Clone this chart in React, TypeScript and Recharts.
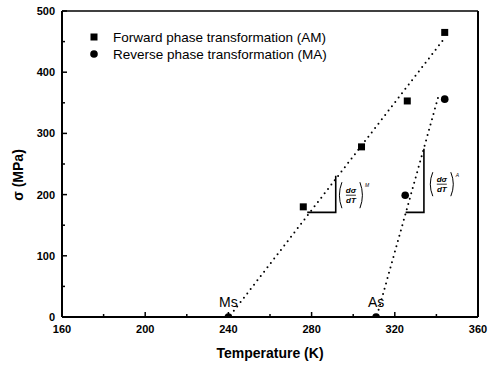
import React from 'react';
import { ScatterChart, Scatter, XAxis, YAxis, ReferenceLine, Legend, Label } from 'recharts';

const forwardSeriesName = 'Forward phase transformation (AM)';
const reverseSeriesName = 'Reverse phase transformation (MA)';

const forwardPoints = [
  { x: 276, y: 180 },
  { x: 304, y: 278 },
  { x: 326, y: 353 },
  { x: 344, y: 465 },
];
const reversePoints = [
  { x: 325, y: 199 },
  { x: 344, y: 356 },
];
const transitionPoints = [
  { x: 240, y: 0, label: 'Ms' },
  { x: 311, y: 0, label: 'As' },
];
const forwardFit = [
  { x: 241, y: 3 },
  { x: 344, y: 456 },
];
const reverseFit = [
  { x: 311.5, y: 3 },
  { x: 341, y: 361 },
];
const forwardSlopeMarker = [
  { x: 277.9, y: 171 },
  { x: 291.6, y: 171 },
  { x: 291.6, y: 231 },
];
const reverseSlopeMarker = [
  { x: 325.2, y: 171 },
  { x: 334, y: 171 },
  { x: 334, y: 275 },
];
const slopeLabels = [
  { x: 298.9, y: 199, sup: 'M', half: 13 },
  { x: 342.6, y: 217, sup: 'A', half: 12 },
];

const xTicks = [160, 180, 200, 220, 240, 260, 280, 300, 320, 340, 360];
const xLabelTicks = [160, 200, 240, 280, 320, 360];
const yTicks = [0, 50, 100, 150, 200, 250, 300, 350, 400, 450, 500];
const yLabelTicks = [0, 100, 200, 300, 400, 500];

const FONT = "'Liberation Sans', Arial, sans-serif";

const XTick = (props: any) => {
  const { x, y, payload } = props;
  const major = xLabelTicks.includes(payload.value);
  const len = major ? 5 : 3;
  return (
    <g>
      <line x1={x} x2={x} y1={y} y2={y - len} stroke="#000" strokeWidth={1.5} />
      {major && (
        <text x={x} y={y + 16} textAnchor="middle" fontSize={11} fontWeight="bold" fill="#000" fontFamily={FONT}>
          {payload.value}
        </text>
      )}
    </g>
  );
};

const YTick = (props: any) => {
  const { x, y, payload } = props;
  const major = yLabelTicks.includes(payload.value);
  const len = major ? 5 : 3;
  return (
    <g>
      <line x1={x} x2={x + len} y1={y} y2={y} stroke="#000" strokeWidth={1.5} />
      {major && (
        <text x={x - 7} y={y + 4} textAnchor="end" fontSize={11} fontWeight="bold" fill="#000" fontFamily={FONT}>
          {payload.value}
        </text>
      )}
    </g>
  );
};

const SquareShape = (props: any) => {
  const { cx, cy } = props;
  return <rect x={cx - 3.5} y={cy - 3.5} width={7} height={7} fill="#000" />;
};
const CircleShape = (props: any) => {
  const { cx, cy } = props;
  return <circle cx={cx} cy={cy} r={3.8} fill="#000" />;
};
const TransitionShape = (props: any) => {
  const { cx, cy, payload } = props;
  const r = 3.8;
  return (
    <g>
      <path d={`M ${cx - r} ${cy} A ${r} ${r} 0 0 1 ${cx + r} ${cy} Z`} fill="#000" />
      <text x={cx} y={cy - 10} textAnchor="middle" fontSize={14} fill="#000" fontFamily={FONT}>
        {payload.label}
      </text>
    </g>
  );
};
const NoShape = () => <g />;

const SlopeShape = (props: any) => {
  const { cx, cy, payload } = props;
  const h = payload.half;
  const w = 11;
  return (
    <g fill="#000" fontFamily={FONT}>
      <path d={`M ${cx - w + 2} ${cy - h} Q ${cx - w - 3} ${cy} ${cx - w + 2} ${cy + h}`} stroke="#000" strokeWidth={1} fill="none" />
      <path d={`M ${cx + w - 2} ${cy - h} Q ${cx + w + 3} ${cy} ${cx + w - 2} ${cy + h}`} stroke="#000" strokeWidth={1} fill="none" />
      <text x={cx} y={cy - 2} textAnchor="middle" fontSize={8} fontWeight="bold" fontStyle="italic">dσ</text>
      <line x1={cx - 5} x2={cx + 5} y1={cy} y2={cy} stroke="#000" strokeWidth={0.8} />
      <text x={cx} y={cy + 8} textAnchor="middle" fontSize={8} fontWeight="bold" fontStyle="italic">dT</text>
      <text x={cx + w + 3} y={cy - h + 5} fontSize={5} fontStyle="italic">{payload.sup}</text>
    </g>
  );
};

const renderLegend = () => (
  <svg width={260} height={36}>
    <rect x={4.5} y={5.5} width={7} height={7} fill="#000" />
    <text x={27} y={13.5} fontSize={13.5} fill="#000" fontFamily={FONT}>{forwardSeriesName}</text>
    <circle cx={8} cy={26} r={3.8} fill="#000" />
    <text x={27} y={30.5} fontSize={13.5} fill="#000" fontFamily={FONT}>{reverseSeriesName}</text>
  </svg>
);

const dotted = { stroke: '#000', strokeWidth: 2, strokeDasharray: '0 5.5', strokeLinecap: 'round' as const };
const solid = { stroke: '#000', strokeWidth: 1.6 };

export default function App() {
  return (
    <div style={{ position: 'absolute', left: 0, top: 0, background: '#fff' }}>
      <ScatterChart width={489} height={367} margin={{ top: 11, right: 11, bottom: 20, left: 0 }}>
        <XAxis
          type="number"
          dataKey="x"
          domain={[160, 360]}
          ticks={xTicks}
          interval={0}
          height={30}
          tickSize={0}
          tickMargin={0}
          tickLine={false}
          axisLine={{ stroke: '#000', strokeWidth: 2 }}
          tick={<XTick />}
        >
          <Label
            content={() => (
              <text x={270} y={358} textAnchor="middle" fontSize={14} fontWeight="bold" fill="#000" fontFamily={FONT}>
                Temperature (K)
              </text>
            )}
          />
        </XAxis>
        <YAxis
          type="number"
          dataKey="y"
          domain={[0, 500]}
          ticks={yTicks}
          interval={0}
          width={62}
          tickSize={0}
          tickMargin={0}
          tickLine={false}
          axisLine={{ stroke: '#000', strokeWidth: 2 }}
          tick={<YTick />}
        >
          <Label
            content={() => (
              <text x={23} y={175} transform="rotate(-90 23 175)" textAnchor="middle" fontSize={14} fontWeight="bold" fill="#000" fontFamily={FONT}>
                σ (MPa)
              </text>
            )}
          />
        </YAxis>
        <ReferenceLine y={500} stroke="#000" strokeWidth={1.6} />
        <ReferenceLine x={360} stroke="#000" strokeWidth={2} />
        <Legend
          layout="vertical"
          align="center"
          verticalAlign="middle"
          content={renderLegend}
          wrapperStyle={{ left: 86, top: 28, width: 260, height: 36 }}
        />
        <Scatter data={forwardFit} line={dotted} shape={NoShape} isAnimationActive={false} legendType="none" />
        <Scatter data={reverseFit} line={dotted} shape={NoShape} isAnimationActive={false} legendType="none" />
        <Scatter data={forwardSlopeMarker} line={solid} shape={NoShape} isAnimationActive={false} legendType="none" />
        <Scatter data={reverseSlopeMarker} line={solid} shape={NoShape} isAnimationActive={false} legendType="none" />
        <Scatter data={slopeLabels} shape={SlopeShape} isAnimationActive={false} legendType="none" />
        <Scatter name={forwardSeriesName} data={forwardPoints} shape={SquareShape} isAnimationActive={false} />
        <Scatter name={reverseSeriesName} data={reversePoints} shape={CircleShape} isAnimationActive={false} />
        <Scatter data={transitionPoints} shape={TransitionShape} isAnimationActive={false} legendType="none" />
      </ScatterChart>
    </div>
  );
}
